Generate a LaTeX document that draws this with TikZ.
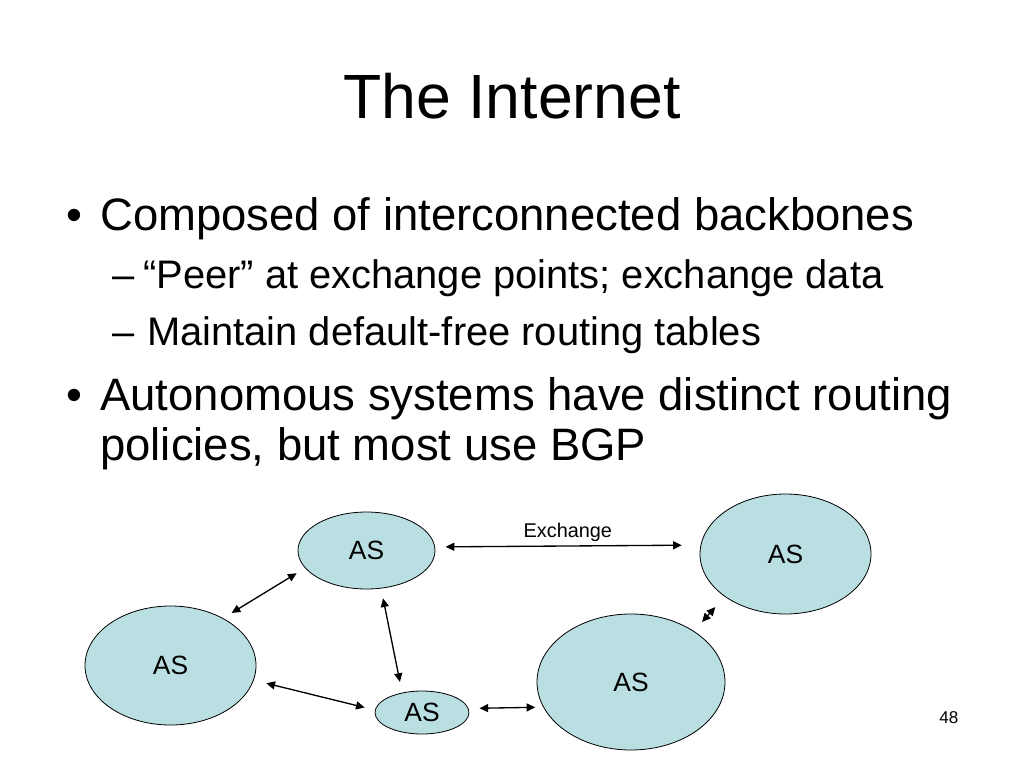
\documentclass[tikz,border=0pt]{standalone}
\usepackage{fontspec}
\setmainfont{Liberation Sans}
\usetikzlibrary{shapes.geometric,arrows.meta}
\definecolor{asfill}{RGB}{186,223,227}
\tikzset{
  asnode/.style={ellipse, draw=black, line width=0.6pt, fill=asfill, inner sep=0pt,
    font=\fontsize{19.8}{23}\selectfont},
  conn/.style={line width=1pt, {Triangle[length=6.5pt,width=6pt]}-{Triangle[length=6.5pt,width=6pt]}},
  txt/.style={anchor=base west, inner sep=0pt},
  bigfont/.style={font=\fontsize{34.1}{40}\selectfont},
  subfont/.style={font=\fontsize{29.9}{36}\selectfont}
}
\begin{document}
\begin{tikzpicture}[x=0.75pt,y=-0.75pt]
\useasboundingbox[fill=white] (0,0) rectangle (1024,768);
% title
\node[anchor=base, inner sep=0pt, font=\fontsize{46.9}{56}\selectfont] (title) at (512,118) {The Internet};
% bullets
\node[txt, bigfont] (b1m) at (66,230) {•};
\node[txt, bigfont] (b1) at (100,230) {Composed of interconnected backbones};
\node[txt, subfont] (s1m) at (112,288) {–};
\node[txt, subfont] (s1) at (143,288) {“Peer” at exchange points; exchange data};
\node[txt, subfont] (s2m) at (112,345) {–};
\node[txt, subfont] (s2) at (147,345) {Maintain default-free routing tables};
\node[txt, bigfont] (b2m) at (66,410) {•};
\node[txt, bigfont] (b2) at (100,410) {Autonomous systems have distinct routing};
\node[txt, bigfont] (b2b) at (100,460) {policies, but most use BGP};
% ellipses
\node[asnode, minimum width=102.75pt, minimum height=57.75pt] (e1) at (366.5,550.5) {AS};
\node[asnode, minimum width=128.25pt, minimum height=90pt] (e2) at (785.5,554) {AS};
\node[asnode, minimum width=128.25pt, minimum height=89.25pt] (e3) at (170.5,665.5) {AS};
\node[asnode, minimum width=70.5pt, minimum height=32.25pt] (e4) at (422,712.5) {AS};
\node[asnode, minimum width=141pt, minimum height=102pt] (e5) at (631,682) {AS};
% connectors
\draw[conn, shorten <=7.9pt, shorten >=14.1pt] (e1.3.8) -- (e2.174.6)
  node[midway, anchor=base, inner sep=0pt, yshift=6pt, font=\fontsize{14.9}{18}\selectfont] (exl) {Exchange};
\draw[conn, shorten <=7.4pt, shorten >=7.5pt] (e1.196) -- (e3.42.3);
\draw[conn, shorten <=7.5pt, shorten >=8.2pt] (e1.291) -- (e4.135);
\draw[conn, shorten <=9.7pt, shorten >=7.9pt] (e3.350.2) -- (e4.177.7);
\draw[conn, shorten <=8.2pt, shorten >=6pt] (e4.5.6) -- (e5.196.7);
\draw[conn, shorten <=9.1pt, shorten >=10.5pt] (e5.39.9) -- (e2.215.9);
% page number
\node[txt, font=\fontsize{12.8}{15}\selectfont] (pg) at (939,723) {48};
\end{tikzpicture}
\end{document}
